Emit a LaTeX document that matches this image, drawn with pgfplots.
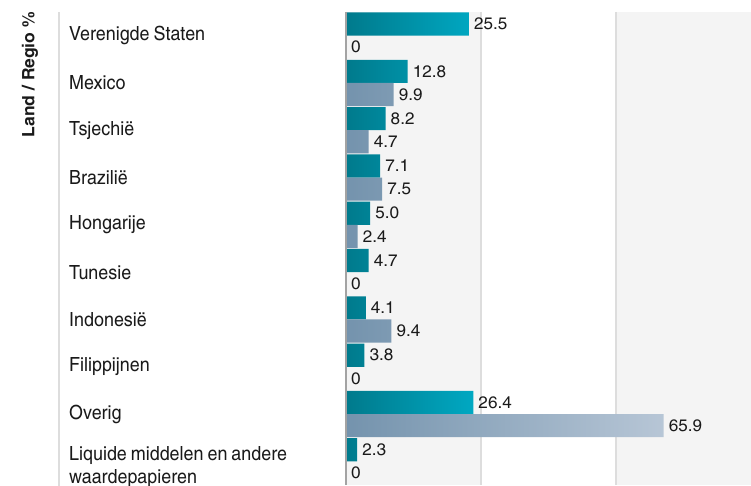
\documentclass[border=0pt]{standalone}
\usepackage{pgfplots}
\pgfplotsset{compat=1.18}
\usepackage{pgfplotstable}
\usepackage{fontspec}
\setmainfont{texgyreheroscn}[Extension=.otf, UprightFont=*-regular, BoldFont=*-bold, FakeStretch=1.12, WordSpace=0.8]
\newfontfamily\numfont{texgyreheroscn}[Extension=.otf, UprightFont=*-regular, BoldFont=*-bold, FakeStretch=1.25]
\definecolor{tealA}{HTML}{007A8C}
\definecolor{tealB}{HTML}{00A8C2}
\definecolor{grayA}{HTML}{7493AD}
\definecolor{grayB}{HTML}{B7C6D6}
\definecolor{band}{HTML}{F4F4F4}
\definecolor{gridc}{HTML}{DDDDDD}
\definecolor{axc}{HTML}{A3A3A3}
\definecolor{txt}{HTML}{1A1A1A}

\pgfplotstableread{
idx a la b lb
0 25.5 25.5 0 0
1 12.8 12.8 9.9 9.9
2 8.2 8.2 4.7 4.7
3 7.1 7.1 7.5 7.5
4 5.0 5.0 2.4 2.4
5 4.7 4.7 0 0
6 4.1 4.1 9.4 9.4
7 3.8 3.8 0 0
8 26.4 26.4 65.9 65.9
9 2.3 2.3 0 0
}\data

\begin{document}
\begin{tikzpicture}[x=1pt,y=1pt]
\path[use as bounding box] (0,0) rectangle (751,486);
\clip (0,0) rectangle (751,486);
\fill[gridc] (58,0) rectangle (60,474);
\node[rotate=90, anchor=east, inner sep=0pt, font=\numfont\bfseries\fontsize{17}{20}\selectfont, text=txt] at (30,474) {Land / Regio \%};
\begin{axis}[
  at={(346pt,474pt)}, anchor=north west, scale only axis,
  width=405pt, height=473pt,
  xmin=0, xmax=84, ymin=-0.5, ymax=9.5, y dir=reverse,
  xbar, bar width=0.49,
  axis line style={draw=none},
  xtick=\empty, ytick={0,...,9},
  yticklabels={Verenigde Staten, Mexico, Tsjechië, Brazilië, Hongarije, Tunesie, Indonesië, Filippijnen, Overig, {\rule{0pt}{25pt}Liquide middelen en andere\\waardepapieren}},
  major tick length=0pt,
  yticklabel style={anchor=west, xshift=-277pt, inner sep=0pt, align=left, font=\fontsize{19.5}{23}\selectfont, text=txt},
  clip=false,
  point meta=explicit symbolic,
  nodes near coords={\pgfplotspointmeta},
  nodes near coords style={anchor=west, inner sep=0pt, xshift=5pt, font=\numfont\fontsize{16.7}{19}\selectfont, text=txt},
]
\fill[band] (axis cs:0,-0.5) rectangle (axis cs:28,9.5);
\fill[band] (axis cs:56,-0.5) rectangle (axis cs:84,9.5);
\draw[gridc, line width=2pt] (axis cs:28,-0.5) -- (axis cs:28,9.5);
\draw[gridc, line width=2pt] (axis cs:56,-0.5) -- (axis cs:56,9.5);
\addplot[draw=none, left color=tealA, right color=tealB, bar shift=-0.245] table[x=a, y=idx, meta=la] {\data};
\addplot[draw=none, left color=grayA, right color=grayB, bar shift=0.245] table[x=b, y=idx, meta=lb] {\data};
\draw[axc, line width=2pt] (axis cs:0,-0.5) -- (axis cs:0,9.5);
\end{axis}
\end{tikzpicture}
\end{document}
